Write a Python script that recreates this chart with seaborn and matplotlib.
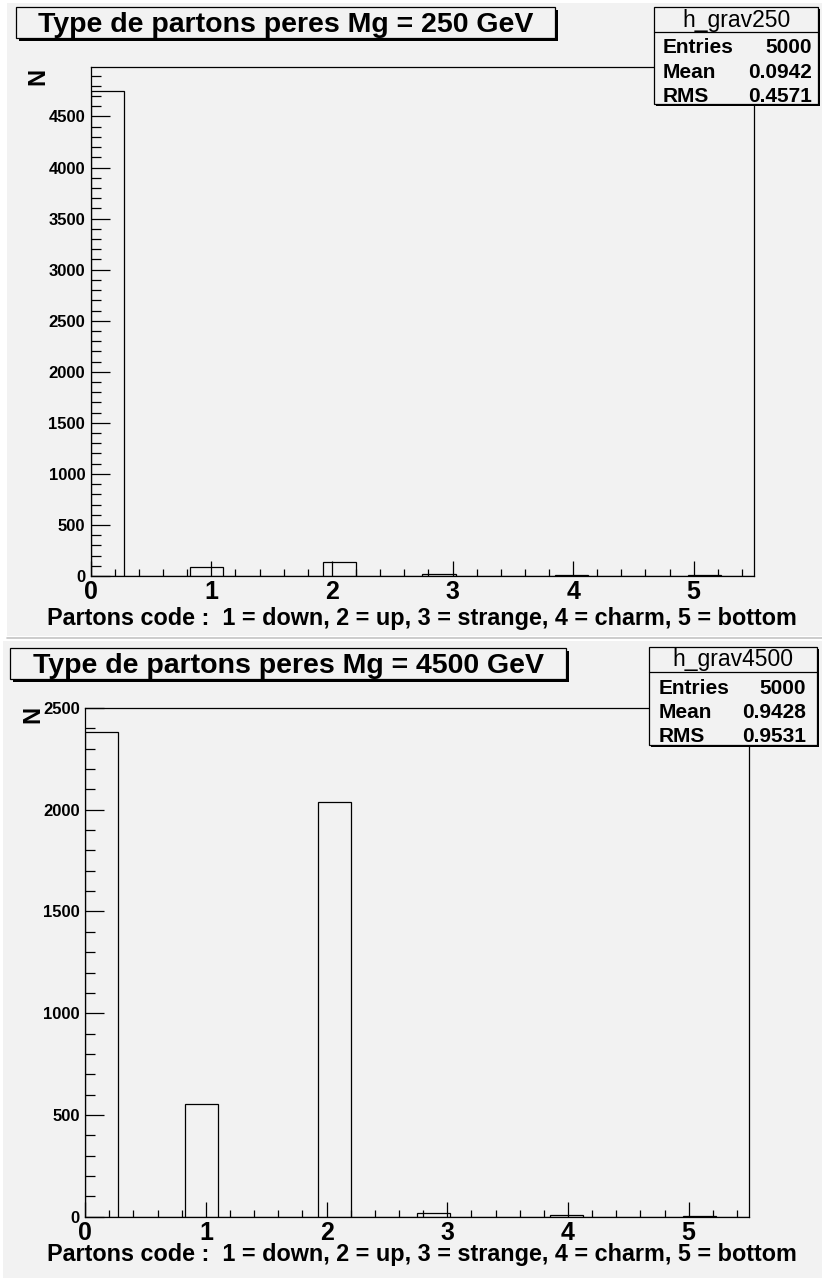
import numpy as np
import pandas as pd
import seaborn as sns
import matplotlib
matplotlib.use("Agg")
import matplotlib.pyplot as plt
from matplotlib.patches import Rectangle
from matplotlib.ticker import MultipleLocator

# Parton codes and their counts for the two graviton masses
codes = [0, 1, 2, 3, 4, 5]
counts_250 = [4750, 85, 134, 16, 6, 9]
counts_4500 = [2381, 555, 2040, 17, 6, 1]

titles = ["Type de partons peres Mg = 250 GeV", "Type de partons peres Mg = 4500 GeV"]
hist_names = ["h_grav250", "h_grav4500"]
entries = [5000, 5000]
means = ["0.0942", "0.9428"]
rms = ["0.4571", "0.9531"]
xlabel = "Partons code :  1 = down, 2 = up, 3 = strange, 4 = charm, 5 = bottom"
ylabel = "N"

n_bins = 20
x_range = (0.0, 5.5)

sns.set_style("ticks")
plt.rcParams["font.family"] = ["Liberation Sans", "DejaVu Sans"]
plt.rcParams["font.weight"] = "bold"
plt.rcParams["text.color"] = "black"
plt.rcParams["xtick.color"] = "black"
plt.rcParams["ytick.color"] = "black"

W, H = 822, 1278
fig = plt.figure(figsize=(W / 100, H / 100), dpi=100, facecolor="white")
BG = "#f2f2f2"


def fx(px):
    return px / W


def fy(py):
    return 1 - py / H


def box(x0, y0, x1, y1, shadow=3):
    if shadow:
        fig.patches.append(Rectangle((fx(x0 + shadow), fy(y1 + shadow)), (x1 - x0) / W,
                                     (y1 - y0) / H, transform=fig.transFigure,
                                     facecolor="black", edgecolor="none", zorder=5))
    fig.patches.append(Rectangle((fx(x0), fy(y1)), (x1 - x0) / W, (y1 - y0) / H,
                                 transform=fig.transFigure, facecolor=BG,
                                 edgecolor="black", linewidth=0.9, zorder=6))


# pad backgrounds and separator
fig.patches.append(Rectangle((fx(7), fy(636)), (W - 7) / W, 633 / H, transform=fig.transFigure,
                             facecolor=BG, edgecolor="none", zorder=-10))
fig.patches.append(Rectangle((fx(3), fy(H)), (W - 3) / W, (H - 641) / H, transform=fig.transFigure,
                             facecolor=BG, edgecolor="none", zorder=-10))
fig.lines.append(plt.Line2D([fx(7), 1], [fy(638.5), fy(638.5)], transform=fig.transFigure,
                            color="#c4c4c4", linewidth=1.2, zorder=-9))

panels = [
    dict(ax=(90.7, 66.7, 754.0, 576.0), counts=counts_250, major=500,
         title_box=(16, 7, 555, 38), title_base=32, stat_box=(654, 7, 818, 104), stat_sep=32,
         rows=[20, 47.7, 72.7, 96.7], lab_x=663, val_x=812,
         ylab=(38, 76), xlab_y=618),
    dict(ax=(85.2, 708.0, 749.0, 1216.7), counts=counts_4500, major=500,
         title_box=(10, 648, 566, 679), title_base=673, stat_box=(649, 647, 817, 745),
         stat_sep=671.7, rows=[659.3, 688.3, 712.7, 736.7], lab_x=659, val_x=806,
         ylab=(33, 714), xlab_y=1255),
]

for i, p in enumerate(panels):
    x0, y0, x1, y1 = p["ax"]
    ax = fig.add_axes([fx(x0), fy(y1), (x1 - x0) / W, (y1 - y0) / H])
    ax.set_facecolor(BG)
    df = pd.DataFrame({"code": codes, "n": p["counts"]})
    sns.histplot(data=df, x="code", weights="n", bins=n_bins, binrange=x_range,
                 element="bars", fill=False, color="black", linewidth=0.9, ax=ax)
    ax.set_xlim(*x_range)
    ax.set_ylim(0, 1.05 * max(p["counts"]))
    ax.set_xlabel("")
    ax.set_ylabel("")
    for s in ax.spines.values():
        s.set_visible(True)
        s.set_linewidth(0.9)
        s.set_color("black")
    ax.xaxis.set_major_locator(MultipleLocator(1))
    ax.xaxis.set_minor_locator(MultipleLocator(0.2))
    ax.yaxis.set_major_locator(MultipleLocator(p["major"]))
    ax.yaxis.set_minor_locator(MultipleLocator(100))
    ax.tick_params(axis="x", which="major", direction="in", length=10.8, width=0.9,
                   labelsize=18, pad=3)
    ax.tick_params(axis="x", which="minor", direction="in", length=5, width=0.9)
    ax.tick_params(axis="y", which="major", direction="in", length=13.7, width=0.9,
                   labelsize=12, pad=4)
    ax.tick_params(axis="y", which="minor", direction="in", length=7.2, width=0.9)
    for lab in ax.get_xticklabels() + ax.get_yticklabels():
        lab.set_fontweight("bold")

    # title box
    tx0, ty0, tx1, ty1 = p["title_box"]
    box(tx0, ty0, tx1, ty1)
    fig.text(fx((tx0 + tx1) / 2), fy(p["title_base"]), titles[i], ha="center",
             va="baseline", fontsize=20.5, fontweight="bold", zorder=7)

    # statistics box
    sx0, sy0, sx1, sy1 = p["stat_box"]
    box(sx0, sy0, sx1, sy1, shadow=2)
    fig.lines.append(plt.Line2D([fx(sx0), fx(sx1)], [fy(p["stat_sep"])] * 2,
                                transform=fig.transFigure, color="black",
                                linewidth=0.9, zorder=7))
    r = p["rows"]
    fig.text(fx((sx0 + sx1) / 2), fy(r[0]), hist_names[i], ha="center", va="center",
             fontsize=16.5, fontweight="normal", zorder=7)
    for lab, val, yy in zip(["Entries", "Mean", "RMS"],
                            [str(entries[i]), means[i], rms[i]], r[1:]):
        fig.text(fx(p["lab_x"]), fy(yy), lab, ha="left", va="center",
                 fontsize=15, fontweight="bold", zorder=7)
        fig.text(fx(p["val_x"]), fy(yy), val, ha="right", va="center",
                 fontsize=15, fontweight="bold", zorder=7)

    # axis titles
    fig.text(fx(p["ylab"][0]), fy(p["ylab"][1]), ylabel, rotation=90, ha="center",
             va="center", fontsize=17, fontweight="bold")
    fig.text(fx(422), fy(p["xlab_y"]), xlabel, ha="center", va="center",
             fontsize=16.8, fontweight="bold")

fig.savefig("out.png", dpi=100, facecolor="white")
